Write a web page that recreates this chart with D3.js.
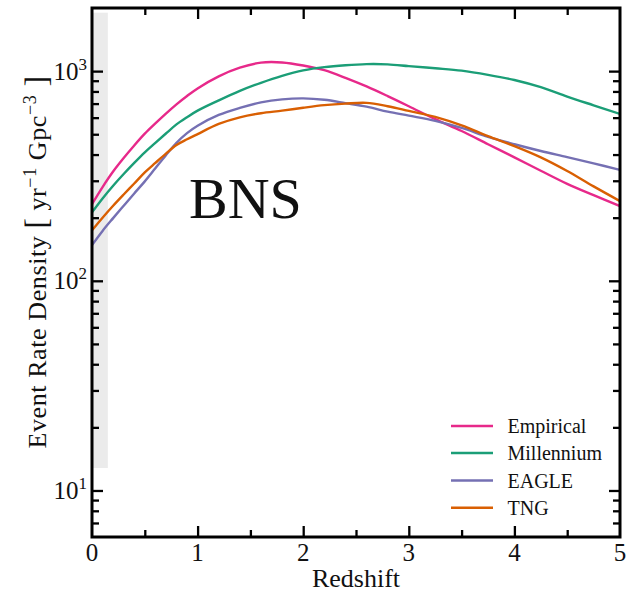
<!DOCTYPE html>
<html><head><meta charset="utf-8">
<script src="https://cdn.jsdelivr.net/npm/d3@7"></script>
<style>
body{margin:0;background:#fff}
text{font-family:"Liberation Serif","Times New Roman",serif;fill:#111}
</style>
</head><body>
<svg id="chart" width="641" height="593"></svg>
<script>
// ---- data ----
const redshift = [0, 0.1, 0.2, 0.3, 0.4, 0.5, 0.6, 0.7, 0.8, 0.9, 1.0, 1.2, 1.4, 1.6, 1.8, 2.0, 2.2, 2.4, 2.6, 2.8, 3.0, 3.25, 3.5, 3.75, 4.0, 4.25, 4.5, 4.75, 5.0];
const empirical = [232, 280, 332, 385, 442, 503, 563, 627, 694, 761, 827, 944, 1038, 1098, 1100, 1064, 1010, 929, 845, 760, 680, 590, 518, 448, 388, 335, 290, 256, 227];
const millennium = [212, 247, 284, 323, 365, 410, 455, 504, 557, 603, 648, 725, 805, 880, 950, 1008, 1045, 1067, 1080, 1077, 1057, 1032, 1005, 960, 907, 838, 756, 687, 625];
const eagle = [148, 173, 199, 228, 261, 298, 344, 397, 455, 506, 549, 618, 668, 709, 733, 741, 730, 704, 677, 641, 613, 579, 536, 486, 448, 416, 389, 363, 338];
const tng = [174, 200, 228, 258, 291, 329, 365, 404, 444, 473, 501, 560, 602, 630, 648, 669, 688, 700, 706, 680, 646, 605, 551, 490, 439, 388, 334, 282, 240];
const seriesNames = ["Empirical", "Millennium", "EAGLE", "TNG"];
const seriesColors = ["#e7298a", "#1b9e77", "#7570b3", "#d95f02"];
const xMajorTicks = [0, 1, 2, 3, 4, 5];
const xMinorTicks = [0.5, 1.5, 2.5, 3.5, 4.5];
const yMajorTicks = [10, 100, 1000];
const yMajorExponents = ["1", "2", "3"];
const yMinorTicks = [7, 8, 9, 20, 30, 40, 50, 60, 70, 80, 90, 200, 300, 400, 500, 600, 700, 800, 900];
const shadedBand = {z: [0, 0.15], rate: [12.8, 1900]};
const panelLabel = "BNS";
const xLabel = "Redshift";

// ---- layout ----
const svg = d3.select("#chart");
const L = 92, R = 620, T = 8, B = 537;
const x = d3.scaleLinear().domain([0, 5]).range([L, R]);
const y = d3.scaleLog().domain([6, 2000]).range([B, T]);

// shaded band
svg.append("rect")
  .attr("x", x(shadedBand.z[0])).attr("width", x(shadedBand.z[1]) - x(shadedBand.z[0]))
  .attr("y", y(shadedBand.rate[1])).attr("height", y(shadedBand.rate[0]) - y(shadedBand.rate[1]))
  .attr("fill", "#ebebeb");

// lines
const allSeries = [empirical, millennium, eagle, tng];
const line = d3.line().x((d, i) => x(redshift[i])).y(d => y(d)).curve(d3.curveCatmullRom.alpha(0.5));
svg.append("clipPath").attr("id", "clip").append("rect")
  .attr("x", L).attr("y", T).attr("width", R - L).attr("height", B - T);
allSeries.forEach((s, k) => {
  svg.append("path").datum(s).attr("d", line)
    .attr("fill", "none").attr("stroke", seriesColors[k]).attr("stroke-width", 2.4)
    .attr("clip-path", "url(#clip)");
});

// axes (ticks inward)
function styleAxis(g) {
  g.select(".domain").remove();
  g.selectAll(".tick line").attr("stroke", "#000").attr("stroke-width", 2.3);
  g.selectAll(".tick text").remove();
}
const maj = 11, mnr = 7;
svg.append("g").attr("transform", `translate(0,${B})`).call(d3.axisBottom(x).tickValues(xMajorTicks.slice(1, -1)).tickSize(-maj).tickSizeOuter(0)).call(styleAxis);
svg.append("g").attr("transform", `translate(0,${B})`).call(d3.axisBottom(x).tickValues(xMinorTicks).tickSize(-mnr).tickSizeOuter(0)).call(styleAxis);
svg.append("g").attr("transform", `translate(0,${T})`).call(d3.axisTop(x).tickValues(xMajorTicks.slice(1, -1)).tickSize(-maj).tickSizeOuter(0)).call(styleAxis);
svg.append("g").attr("transform", `translate(0,${T})`).call(d3.axisTop(x).tickValues(xMinorTicks).tickSize(-mnr).tickSizeOuter(0)).call(styleAxis);
svg.append("g").attr("transform", `translate(${L},0)`).call(d3.axisLeft(y).tickValues(yMajorTicks).tickSize(-maj).tickSizeOuter(0)).call(styleAxis);
svg.append("g").attr("transform", `translate(${L},0)`).call(d3.axisLeft(y).tickValues(yMinorTicks).tickSize(-mnr).tickSizeOuter(0)).call(styleAxis);
svg.append("g").attr("transform", `translate(${R},0)`).call(d3.axisRight(y).tickValues(yMajorTicks).tickSize(-maj).tickSizeOuter(0)).call(styleAxis);
svg.append("g").attr("transform", `translate(${R},0)`).call(d3.axisRight(y).tickValues(yMinorTicks).tickSize(-mnr).tickSizeOuter(0)).call(styleAxis);

// frame
svg.append("rect").attr("x", L).attr("y", T).attr("width", R - L).attr("height", B - T)
  .attr("fill", "none").attr("stroke", "#000").attr("stroke-width", 3);

// x tick labels
svg.append("g").selectAll("text").data(xMajorTicks).join("text")
  .attr("x", d => x(d)).attr("y", 561).attr("text-anchor", "middle")
  .attr("font-size", 25).text(d => d);
// y tick labels
yMajorTicks.forEach((v, i) => {
  const t = svg.append("text").attr("x", 87).attr("y", y(v) + 8.5).attr("text-anchor", "end").attr("font-size", 25);
  t.append("tspan").text("10");
  t.append("tspan").attr("font-size", 17).attr("dy", -10).text(yMajorExponents[i]);
});

// axis labels
svg.append("text").attr("x", 356).attr("y", 587).attr("text-anchor", "middle").attr("font-size", 26).text(xLabel);
const yl = svg.append("text").attr("transform", "translate(46,262) rotate(-90)")
  .attr("text-anchor", "middle").attr("font-size", 26).attr("letter-spacing", 0.6);
yl.append("tspan").text("Event Rate Density ");
yl.append("tspan").attr("font-size", 31).attr("dy", 1).text("[");
yl.append("tspan").attr("dy", -1).text(" yr");
yl.append("tspan").attr("font-size", 18).attr("dy", -10).text("−1");
yl.append("tspan").attr("dy", 10).text(" Gpc");
yl.append("tspan").attr("font-size", 18).attr("dy", -10).text("−3");
yl.append("tspan").attr("font-size", 31).attr("dy", 11).text(" ]");

// panel label
svg.append("text").attr("x", 189).attr("y", 218).attr("font-size", 58).text(panelLabel);

// legend
const legRowY = [426, 453, 480.5, 507.7];
seriesNames.forEach((n, i) => {
  svg.append("line").attr("x1", 451).attr("x2", 493).attr("y1", legRowY[i]).attr("y2", legRowY[i])
    .attr("stroke", seriesColors[i]).attr("stroke-width", 2.6);
  svg.append("text").attr("x", 507.5).attr("y", legRowY[i] + 7).attr("font-size", 20).text(n);
});
</script>
</body></html>
